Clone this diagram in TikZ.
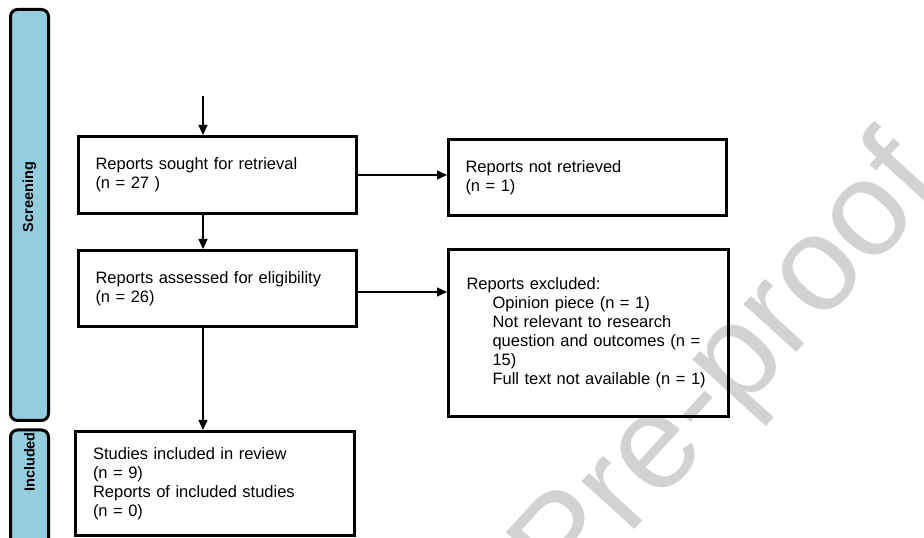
\documentclass[tikz,border=0pt]{standalone}
\usepackage{fontspec}
\setmainfont{Liberation Sans}
\usetikzlibrary{arrows.meta}

\definecolor{phaseblue}{RGB}{149,205,222}
\tikzset{
    flowbox/.style={draw, line width=3pt, minimum width=278pt, text width=244pt,
        inner xsep=17pt, align=left, font=\fontsize{16.5}{19}\selectfont},
    phasebar/.style={draw, line width=3pt, fill=phaseblue, rounded corners=7pt,
        rotate=90, minimum height=38pt},
    phaselabel/.style={rotate=90, font=\fontsize{14.5}{17}\selectfont\bfseries},
    flow/.style={line width=1.2pt, -{Triangle[length=10pt, width=9pt]}}
}

\begin{document}
\begin{tikzpicture}[x=1pt, y=1pt]
            \useasboundingbox (0,0) rectangle (924,538);
            \clip (0,0) rectangle (924,538);

            % watermark
            \node[anchor=base west, rotate=47.7, inner sep=0, text=gray!35,
                font=\fontsize{135}{135}\selectfont] (mark) at (567.8,-65.3) {Pre-proof};

            % phases
            \node[phasebar, minimum width=411pt] (screening) at (29.5,323) {};
            \node[phaselabel] (screeninglabel) at (29.5,341) {Screening};
            \node[phasebar, minimum width=120pt] (included) at (29.5,48) {};
            \node[phaselabel] (includedlabel) at (29.5,76) {Included};

            % boxes
            \node[flowbox, minimum height=77pt] (sought) at (217.5,363)
                {Reports sought for retrieval\\(n = 27 )};
            \node[flowbox, minimum height=76pt] (notret) at (587.5,360.5)
                {Reports not retrieved\\(n = 1)};
            \node[flowbox, minimum height=76pt] (assessed) at (217.5,249.5)
                {Reports assessed for eligibility\\(n = 26)};
            \node[flowbox, minimum width=280pt, minimum height=167pt] (excluded) at (588.5,205)
                {Reports excluded:\\
                \hspace*{26pt}Opinion piece (n = 1)\\
                \hspace*{26pt}Not relevant to research\\
                \hspace*{26pt}question and outcomes (n =\\
                \hspace*{26pt}15)\\
                \hspace*{26pt}Full text not available (n = 1)};
            \node[flowbox, minimum width=279pt, minimum height=104pt] (inclrev) at (215,54.5)
                {Studies included in review\\(n = 9)\\Reports of included studies\\(n = 0)};

            % arrows
            \coordinate (start) at (203,442);
            \draw[flow] (start) -- (start |- sought.north);
            \draw[flow] (sought.east) -- (sought.east -| notret.west);
            \draw[flow] (sought.south -| start) -- (assessed.north -| start);
            \draw[flow] ([yshift=-3.5pt]assessed.east) -- ([yshift=-3.5pt]assessed.east -| excluded.west);
            \draw[flow] (assessed.south -| start) -- (inclrev.north -| start);
        \end{tikzpicture}
\end{document}
